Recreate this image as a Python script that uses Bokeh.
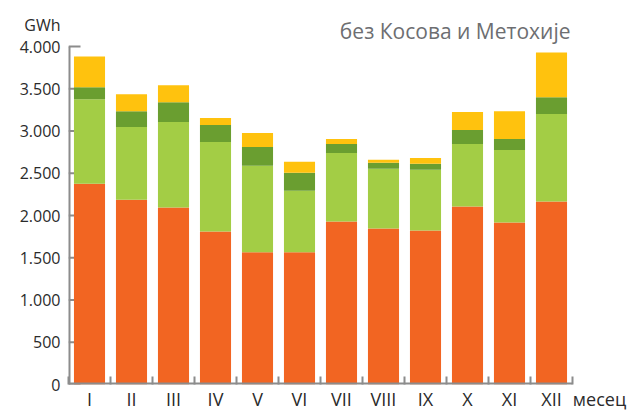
import numpy as np
from bokeh.plotting import figure
from bokeh.models import FixedTicker, Range1d, Label, ColumnDataSource
from bokeh.embed import file_html
from bokeh.resources import INLINE

# ---- data (GWh) ----
months = ["I", "II", "III", "IV", "V", "VI", "VII", "VIII", "IX", "X", "XI", "XII"]
series_orange = [2376, 2188, 2094, 1812, 1565, 1565, 1929, 1847, 1824, 2106, 1918, 2165]
series_lightgreen = [1000, 859, 1012, 1059, 1023, 729, 812, 706, 717, 741, 858, 1035]
series_darkgreen = [142, 188, 235, 200, 224, 212, 106, 71, 71, 165, 130, 200]
series_yellow = [364, 200, 200, 82, 164, 129, 59, 35, 70, 212, 329, 529]
y_ticks = [0, 500, 1000, 1500, 2000, 2500, 3000, 3500, 4000]
y_tick_labels = ["0", "500", "1.000", "1.500", "2.000", "2.500", "3.000", "3.500", "4.000"]
title_text = "без Косова и Метохије"
unit_text = "GWh"
x_title = "месец"

colors = ["#F26522", "#A3CD45", "#6A9E30", "#FFC20E"]
keys = ["orange", "lightgreen", "darkgreen", "yellow"]

n = len(months)
centers = (np.arange(n) + 0.5).tolist()
bounds = list(range(n + 1))

source = ColumnDataSource(dict(
    x=centers,
    orange=series_orange,
    lightgreen=series_lightgreen,
    darkgreen=series_darkgreen,
    yellow=series_yellow,
))

FONT = "Open Sans"
AXIS_COLOR = "#8C8C8C"
TEXT_COLOR = "#2b2b2b"
TICK_LEN = 12 / 42          # inward tick length of the value axis (category widths)
Y_TOP = 4450                # headroom above 4.000 for the unit and the caption
UNIT_POS = 4260             # where the unit text sits on the value axis
X_END = n + 57 / 42         # room right of the last month for "месец"
X_TITLE_POS = n + 0.643

p = figure(width=629, height=413,
           x_range=Range1d(0, X_END), y_range=Range1d(0, Y_TOP),
           output_backend="svg", toolbar_location=None,
           min_border_left=68, min_border_right=0,
           min_border_top=8, min_border_bottom=26)
p.outline_line_color = None
p.background_fill_color = "white"
p.border_fill_color = None
p.grid.visible = False

# short inward tick marks on the value axis, drawn under the bars
p.segment(x0=0, y0=y_ticks, x1=TICK_LEN, y1=y_ticks,
          line_color=AXIS_COLOR, line_width=2)

renderers = p.vbar_stack(keys, x="x", width=0.74, source=source,
                         color=colors, line_color=None)

# axis lines, limited to the data area (0..12 months, 0..4.000 GWh)
p.segment(x0=[0, 0], y0=[y_ticks[0], y_ticks[0]], x1=[0, n], y1=[y_ticks[-1], y_ticks[0]],
          line_color=AXIS_COLOR, line_width=4)

# x axis: labels at centres, ticks at category boundaries
xa = p.xaxis[0]
xa.ticker = FixedTicker(ticks=centers + [X_TITLE_POS], minor_ticks=bounds)
overrides_x = {c: m for c, m in zip(centers, months)}
overrides_x[X_TITLE_POS] = x_title
xa.major_label_overrides = overrides_x
xa.major_tick_line_color = None
xa.major_tick_in = 0
xa.major_tick_out = 0
xa.minor_tick_in = 8
xa.minor_tick_out = 0
xa.minor_tick_line_color = AXIS_COLOR
xa.minor_tick_line_width = 2
xa.axis_line_color = None
xa.major_label_text_font = FONT
xa.major_label_text_font_size = "18px"
xa.major_label_text_color = TEXT_COLOR
xa.major_label_standoff = 2

ya = p.yaxis[0]
ya.ticker = FixedTicker(ticks=y_ticks + [UNIT_POS])
overrides_y = {t: l for t, l in zip(y_ticks, y_tick_labels)}
overrides_y[UNIT_POS] = unit_text
ya.major_label_overrides = overrides_y
ya.minor_tick_line_color = None
ya.major_tick_line_color = None
ya.major_tick_in = 0
ya.major_tick_out = 0
ya.axis_line_color = None
ya.major_label_text_font = FONT
ya.major_label_text_font_size = "16px"
ya.major_label_text_color = TEXT_COLOR
ya.major_label_standoff = 8

# caption, right aligned at the top of the chart
p.add_layout(Label(x=502, y=354, x_units="screen", y_units="screen",
                   text=title_text, text_font=FONT, text_font_size="21px",
                   text_color="#6D6E71", text_align="right",
                   text_baseline="alphabetic"))

open("out.html", "w").write(file_html(p, INLINE))
